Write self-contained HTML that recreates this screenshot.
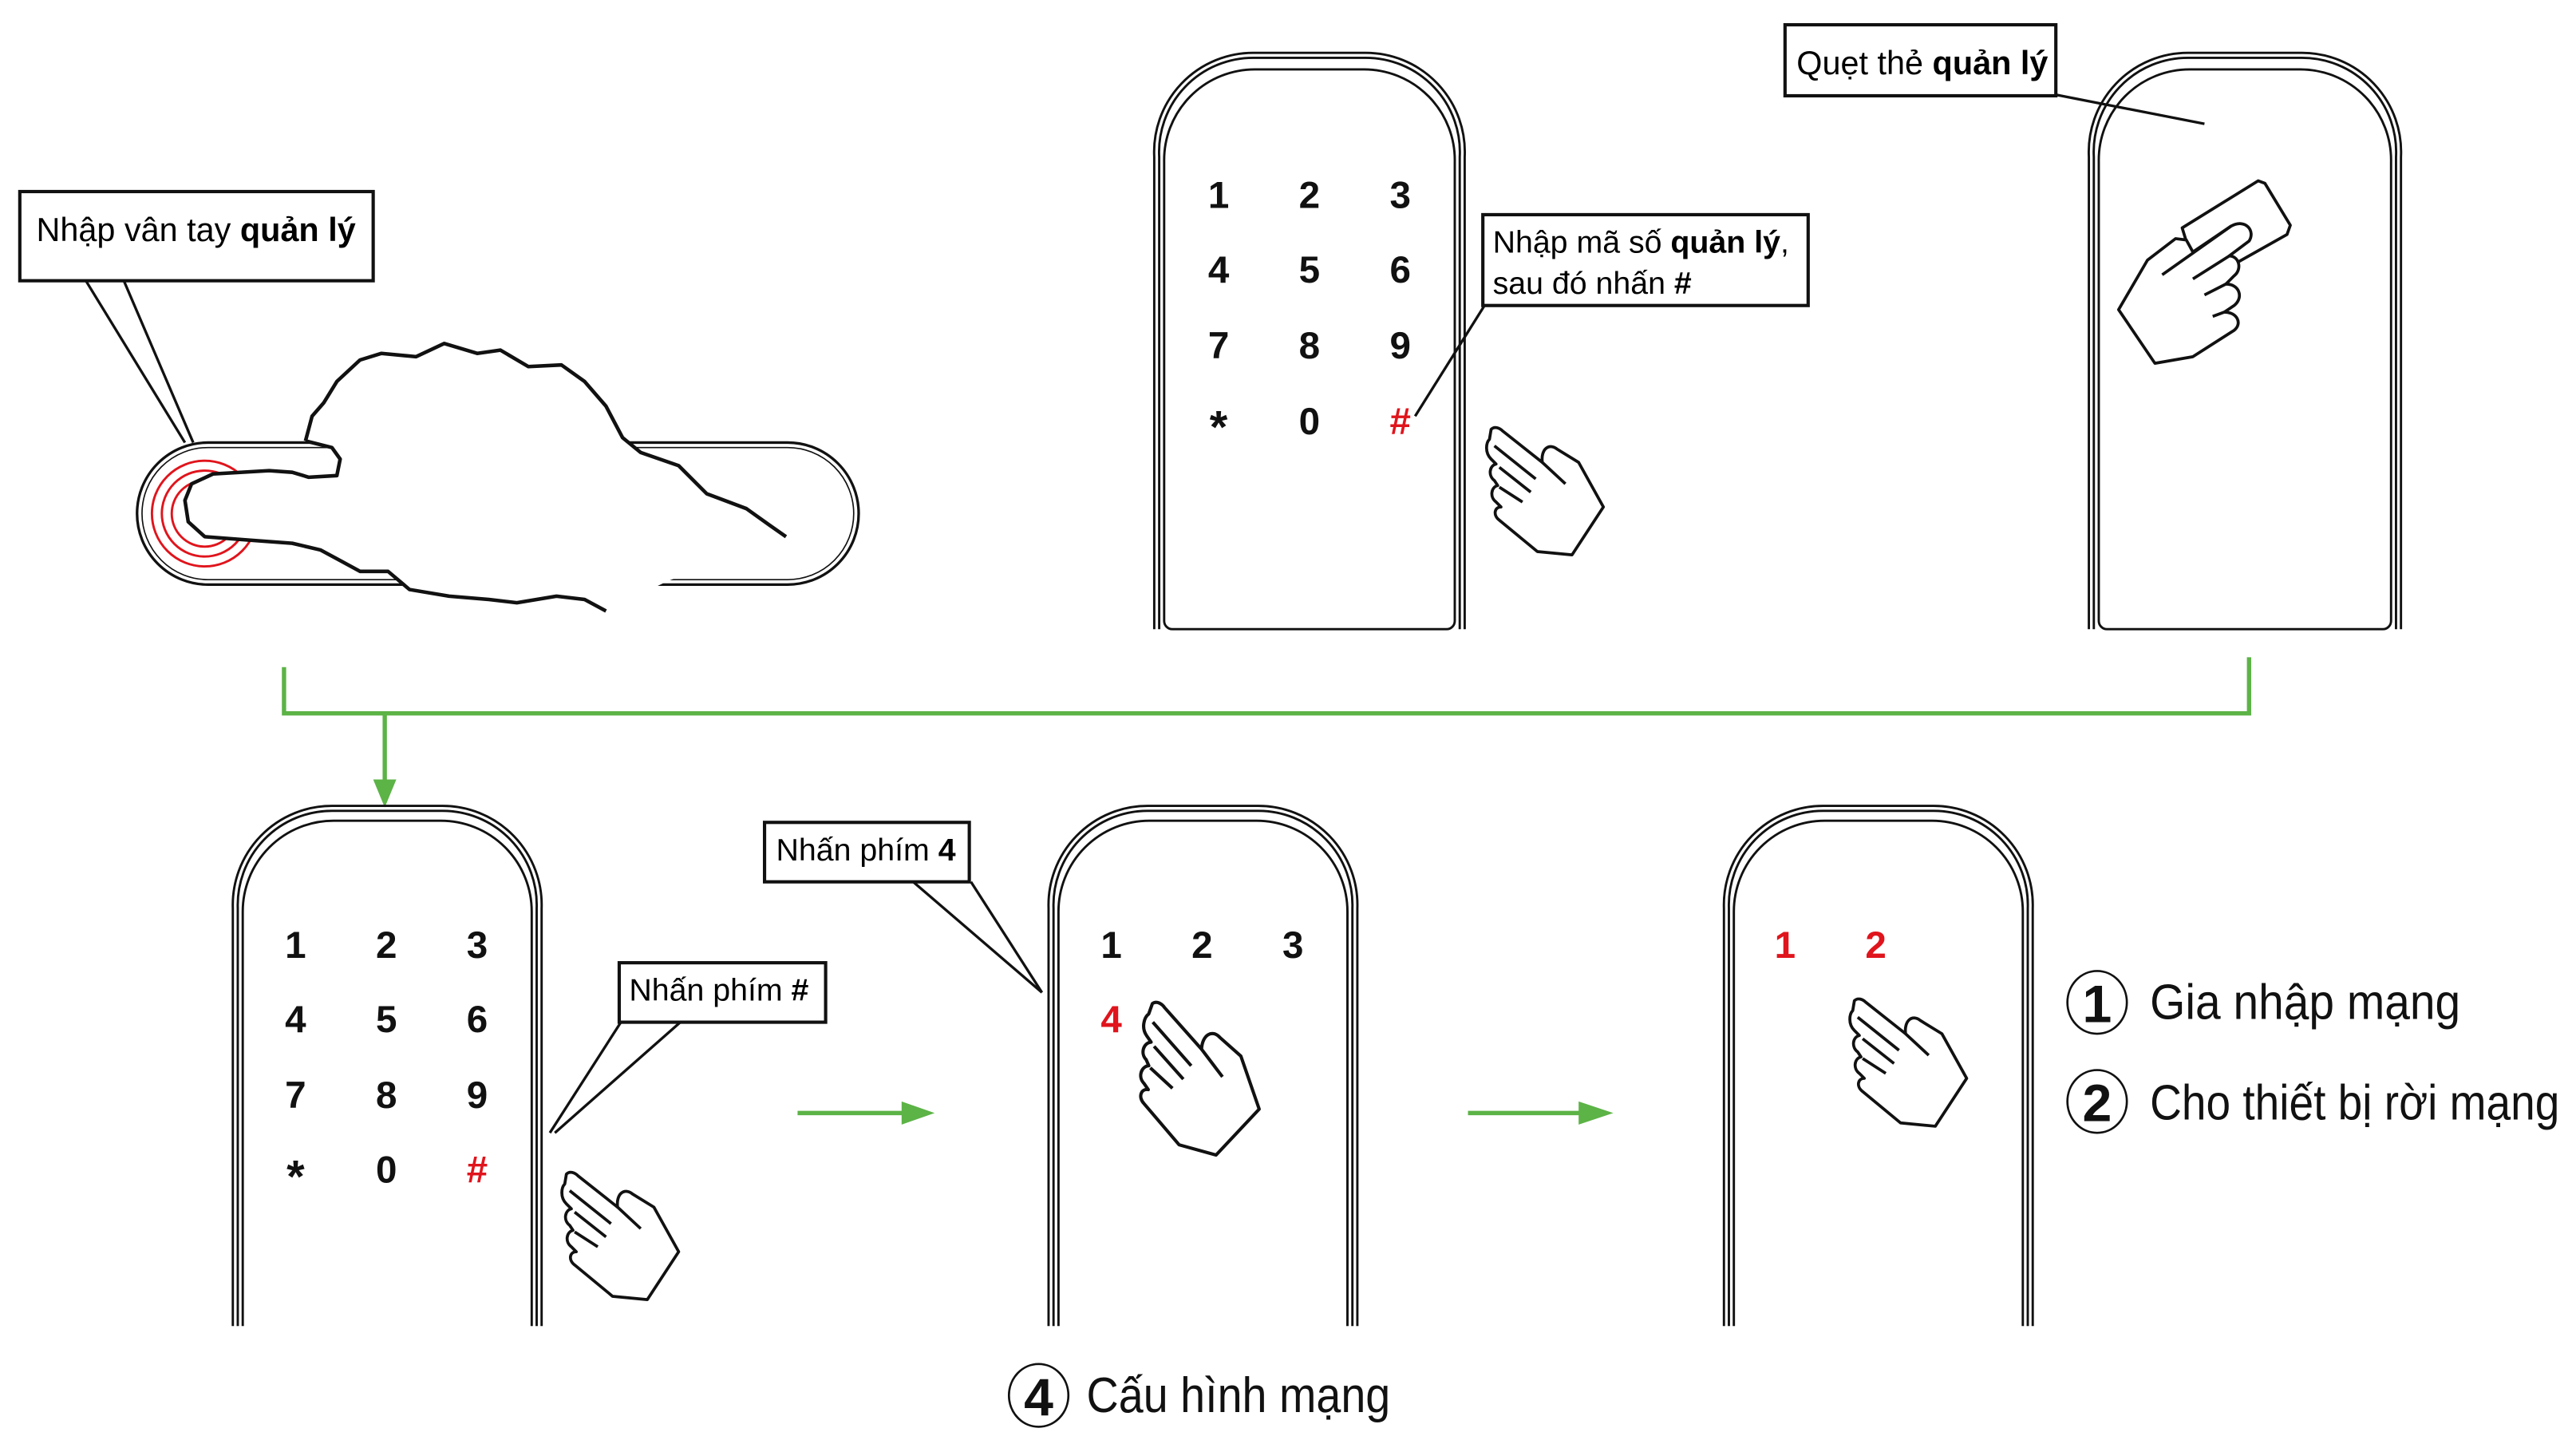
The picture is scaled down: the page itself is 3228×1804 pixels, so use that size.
<!DOCTYPE html>
<html><head><meta charset="utf-8"><style>
html,body{margin:0;padding:0;background:#fff;}
svg{display:block;}
text{font-family:"Liberation Sans","DejaVu Sans",sans-serif;}
</style></head><body>
<svg width="3228" height="1804" viewBox="0 0 1560 872" preserveAspectRatio="none" xmlns="http://www.w3.org/2000/svg">
<defs>
<g id="hand" fill="#fff" stroke="#111" stroke-width="1.8" stroke-linejoin="round">
<path d="M3,2 C5,0 8,1 10,3 L34,22 C33,14 38,10 43,14 L56,22 L71,49 L52,78 L31,76 L8,57 C4,54 5,49 9,49 L6,46 C2,43 3,37 7,36 L5,33 C1,30 2,24 6,23 L3,20 C-1,16 0,10 2,8 Z"/>
<path d="M5,12 L30,32 M8,25 L27,40 M8,37 L22,46 M34,22 L48,35" fill="none"/>
</g>
</defs>

<!-- Fingerprint reader -->
<g fill="none" stroke="#111" stroke-width="1.6">
<rect x="83" y="268" width="437" height="86" rx="43"/>
<rect x="86" y="271" width="431" height="80" rx="40" stroke-width="0.8"/>
</g>
<g fill="none" stroke="#e0141c" stroke-width="1.4">
<circle cx="124" cy="311" r="32"/><circle cx="124" cy="311" r="26"/><circle cx="124" cy="311" r="20"/>
</g>
<path d="M185,267 L189,252 L196,244 L204,231 L218,218 L231,214 L252,216 L269,208 L289,214 L303,212 L320,222 L340,221 L354,231 L367,246 L377,265 L388,274 L411,282 L428,299 L452,308 L466,318 L476,325 L404,352 L367,370 L354,363 L337,361 L313,365 L296,363 L272,361 L248,357 L235,346 L218,346 L207,340 L194,333 L177,329 L150,327 L124,325 L114,316 L112,303 L116,293 L129,287 L163,285 L177,286 L187,289 L204,288 L206,278 L201,271 Z" fill="#fff" stroke="none"/>
<path d="M185,267 L189,252 L196,244 L204,231 L218,218 L231,214 L252,216 L269,208 L289,214 L303,212 L320,222 L340,221 L354,231 L367,246 L377,265 L388,274 L411,282 L428,299 L452,308 L466,318 L476,325" fill="none" stroke="#111" stroke-width="2.2" stroke-linejoin="round"/>
<path d="M185,267 L201,271 L206,278 L204,288 L187,289 L177,286 L163,285 L129,287 L116,293 L112,303 L114,316 L124,325 L150,327 L177,329 L194,333 L207,340 L218,346 L235,346 L248,357 L272,361 L296,363 L313,365 L337,361 L354,363 L367,370" fill="none" stroke="#111" stroke-width="2.2" stroke-linejoin="round"/>
<!-- callout 1 -->
<path d="M52,170 L112,268 M75,170 L117,268" stroke="#111" stroke-width="1.6"/>
<rect x="12" y="116" width="214" height="54" fill="#fff" stroke="#111" stroke-width="2"/>
<text x="22" y="146" font-size="20">Nhập vân tay <tspan font-weight="bold">quản lý</tspan></text>

<!-- top keypad device -->
<g fill="none" stroke="#111" stroke-width="1.4">
<path d="M699,381 V95 A60,60 0 0 1 759,32 H827 A60,60 0 0 1 887,95 V381"/>
<path d="M702,381 V95 A57,57 0 0 1 759,35 H827 A57,57 0 0 1 884,95 V381"/>
<path d="M705,98 A55,55 0 0 1 760,42 H826 A55,55 0 0 1 881,98 V376 A5,5 0 0 1 876,381 H710 A5,5 0 0 1 705,376 Z"/>
</g>
<g font-weight="bold" font-size="23" text-anchor="middle" fill="#111">
<text x="738" y="126">1</text><text x="793" y="126">2</text><text x="848" y="126">3</text>
<text x="738" y="171">4</text><text x="793" y="171">5</text><text x="848" y="171">6</text>
<text x="738" y="217">7</text><text x="793" y="217">8</text><text x="848" y="217">9</text>
<text x="738" y="268" font-size="28">*</text><text x="793" y="263">0</text><text x="848" y="263" fill="#e0141c">#</text>
</g>
<path d="M899,185 L857,252" stroke="#111" stroke-width="1.6"/>
<rect x="898" y="130" width="197" height="55" fill="#fff" stroke="#111" stroke-width="2"/>
<text x="904" y="153" font-size="19">Nhập mã số <tspan font-weight="bold">quản lý</tspan>,</text>
<text x="904" y="178" font-size="19">sau đó nhấn <tspan font-weight="bold">#</tspan></text>
<use href="#hand" transform="translate(900,258)"/>

<!-- top right card device -->
<g fill="none" stroke="#111" stroke-width="1.4">
<path d="M1265,381 V95 A60,60 0 0 1 1325,32 H1394 A60,60 0 0 1 1454,95 V381"/>
<path d="M1268,381 V95 A57,57 0 0 1 1325,35 H1394 A57,57 0 0 1 1451,95 V381"/>
<path d="M1271,98 A55,55 0 0 1 1326,42 H1393 A55,55 0 0 1 1448,98 V376 A5,5 0 0 1 1443,381 H1276 A5,5 0 0 1 1271,376 Z"/>
</g>
<path d="M1243,57 L1335,75" stroke="#111" stroke-width="1.6"/>
<rect x="1081" y="15" width="164" height="43" fill="#fff" stroke="#111" stroke-width="2"/>
<text x="1088" y="45" font-size="20">Quẹt thẻ <tspan font-weight="bold">quản lý</tspan></text>
<g fill="#fff" stroke="#111" stroke-width="1.8" stroke-linejoin="round">
<path d="M1321.5,138 L1367.5,109.5 L1371.6,111 L1387,136.4 L1385,142 L1356,158.3 L1326,152.6 Z"/>
<path d="M1283,187.5 L1300.5,157.5 L1317.5,144.5 L1324,145.3 L1328,152.6 L1351,137 C1360,132 1366,140 1362,146 L1350,155 C1356,155 1358,163 1353,167 L1348,172 C1356,172 1359,180 1353,185 L1347,189 C1355,189 1358,196 1353,200 L1328,216 L1305,220 Z"/>
<path d="M1309.4,166.4 L1351,137 M1328,168.9 L1350,155 M1335,178.6 L1348,172 M1340,191.6 L1347,189" fill="none"/>
</g>

<!-- green connector -->
<g stroke="#5cb346" stroke-width="2.6" fill="none">
<path d="M172,404 V432 H1362 V398"/>
<path d="M233,432 V474"/>
<path d="M483,674 H548"/>
<path d="M889,674 H958"/>
</g>
<g fill="#5cb346">
<path d="M226,472 L240,472 L233,489 Z"/>
<path d="M546,667 L566,674 L546,681 Z"/>
<path d="M956,667 L977,674 L956,681 Z"/>
</g>

<!-- bottom device 1 -->
<g fill="none" stroke="#111" stroke-width="1.4">
<path d="M141,803 V550 A60,60 0 0 1 201,488 H268 A60,60 0 0 1 328,550 V803"/>
<path d="M144,803 V550 A57,57 0 0 1 201,491 H268 A57,57 0 0 1 325,550 V803"/>
<path d="M147,803 V552 A55,55 0 0 1 202,497 H267 A55,55 0 0 1 322,552 V803"/>
</g>
<g font-weight="bold" font-size="23" text-anchor="middle" fill="#111">
<text x="179" y="580">1</text><text x="234" y="580">2</text><text x="289" y="580">3</text>
<text x="179" y="625">4</text><text x="234" y="625">5</text><text x="289" y="625">6</text>
<text x="179" y="671">7</text><text x="234" y="671">8</text><text x="289" y="671">9</text>
<text x="179" y="722" font-size="28">*</text><text x="234" y="716">0</text><text x="289" y="716" fill="#e0141c">#</text>
</g>
<path d="M376,619 L333,686 M412,619 L336,686" stroke="#111" stroke-width="1.6"/>
<rect x="375" y="583" width="125" height="36" fill="#fff" stroke="#111" stroke-width="2"/>
<text x="381" y="606" font-size="19">Nhấn phím <tspan font-weight="bold">#</tspan></text>
<use href="#hand" transform="translate(340,709)"/>

<!-- bottom device 2 -->
<g fill="none" stroke="#111" stroke-width="1.4">
<path d="M635,803 V550 A60,60 0 0 1 695,488 H762 A60,60 0 0 1 822,550 V803"/>
<path d="M638,803 V550 A57,57 0 0 1 695,491 H762 A57,57 0 0 1 819,550 V803"/>
<path d="M641,803 V552 A55,55 0 0 1 696,497 H761 A55,55 0 0 1 816,552 V803"/>
</g>
<g font-weight="bold" font-size="23" text-anchor="middle" fill="#111">
<text x="673" y="580">1</text><text x="728" y="580">2</text><text x="783" y="580">3</text>
<text x="673" y="625" fill="#e0141c">4</text>
</g>
<path d="M553,534 L631,601 M588,534 L631,601" stroke="#111" stroke-width="1.6"/>
<rect x="463" y="498" width="124" height="36" fill="#fff" stroke="#111" stroke-width="2"/>
<text x="470" y="521" font-size="19">Nhấn phím <tspan font-weight="bold">4</tspan></text>
<use href="#hand" transform="translate(695,605) rotate(10) scale(1.1)"/>

<!-- bottom device 3 -->
<g fill="none" stroke="#111" stroke-width="1.4">
<path d="M1044,803 V550 A60,60 0 0 1 1104,488 H1171 A60,60 0 0 1 1231,550 V803"/>
<path d="M1047,803 V550 A57,57 0 0 1 1104,491 H1171 A57,57 0 0 1 1228,550 V803"/>
<path d="M1050,803 V552 A55,55 0 0 1 1105,497 H1170 A55,55 0 0 1 1225,552 V803"/>
</g>
<g font-weight="bold" font-size="23" text-anchor="middle" fill="#e0141c">
<text x="1081" y="580">1</text><text x="1136" y="580">2</text>
</g>
<use href="#hand" transform="translate(1120,604)"/>

<!-- legend -->
<g fill="none" stroke="#111" stroke-width="1.3">
<ellipse cx="1270" cy="607" rx="18" ry="19"/>
<ellipse cx="1270" cy="667" rx="18" ry="19"/>
<ellipse cx="629" cy="845" rx="18" ry="19"/>
</g>
<g font-size="32" text-anchor="middle" fill="#111" font-weight="bold">
<text x="1270" y="619">1</text>
<text x="1270" y="679">2</text>
<text x="629" y="857">4</text>
</g>
<g font-size="30" fill="#111">
<text x="1302" y="617" textLength="188" lengthAdjust="spacingAndGlyphs">Gia nhập mạng</text>
<text x="1302" y="678" textLength="248" lengthAdjust="spacingAndGlyphs">Cho thiết bị rời mạng</text>
<text x="658" y="855" textLength="184" lengthAdjust="spacingAndGlyphs">Cấu hình mạng</text>
</g>
</svg>
</body></html>
